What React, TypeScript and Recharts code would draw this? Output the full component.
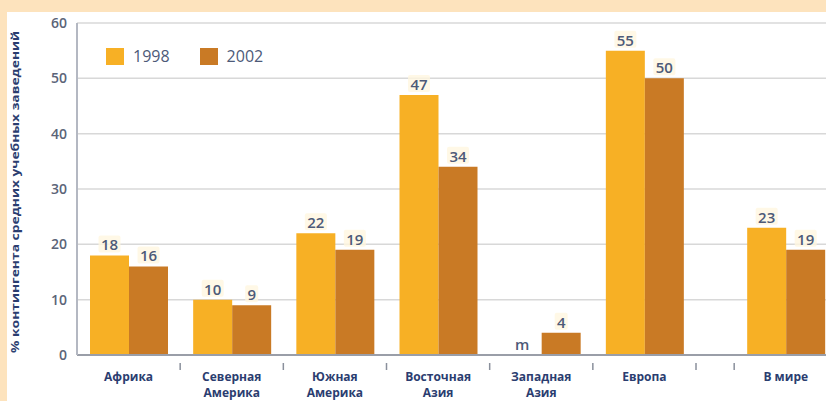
import { BarChart, Bar, XAxis, YAxis, CartesianGrid, Legend, LabelList } from "recharts";

// categories (label lines), their centre on the x scale, and the two survey years
const categories = [
  ["Африка"],
  ["Северная", "Америка"],
  ["Южная", "Америка"],
  ["Восточная", "Азия"],
  ["Западная", "Азия"],
  ["Европа"],
  ["В мире"],
];
const positions = [0.5, 1.5, 2.5, 3.5, 4.5, 5.5, 6.87];
const dividers = [1, 2, 3, 4, 5, 6, 6.37];
const values1998 = [18, 10, 22, 47, null, 55, 23];
const values2002 = [16, 9, 19, 34, 4, 50, 19];
const yTicks = [0, 10, 20, 30, 40, 50, 60];

const C1998 = "#f7b025";
const C2002 = "#c97a25";
const FONT = "'Open Sans', sans-serif";

const data = positions.map((p, i) => ({
  pos: p,
  y1998: values1998[i] ?? 0,
  y2002: values2002[i] ?? 0,
  lab1998: values1998[i] == null ? "m" : String(values1998[i]),
  lab2002: values2002[i] == null ? "m" : String(values2002[i]),
}));

function ValueLabel(props: any) {
  const { x, y, width, value } = props;
  const cx = x + width / 2;
  const missing = value === "m";
  const w = String(value).length * 9 + 4;
  return (
    <g>
      {!missing && (
        <rect x={cx - w / 2} y={y - 20} width={w} height={17} rx={2} fill="#fff6e0" opacity={0.8} />
      )}
      <text x={cx} y={y - 5} textAnchor="middle" fill="#4d5a78" fontSize={15} fontWeight={600} fontFamily={FONT}>
        {value}
      </text>
    </g>
  );
}

function CategoryTick(props: any) {
  const { x, y, payload } = props;
  const di = dividers.indexOf(payload.value);
  if (di >= 0) {
    return <line x1={x} x2={x} y1={y} y2={y + 7} stroke="#8a909c" strokeWidth={1.5} />;
  }
  const ci = positions.indexOf(payload.value);
  if (ci < 0) return null;
  return (
    <text x={x} y={y + 18} textAnchor="middle" fill="#2b3d70" fontSize={12} fontWeight={700} fontFamily={FONT}>
      {categories[ci].map((line, k) => (
        <tspan key={k} x={x} dy={k === 0 ? 0 : 16}>{line}</tspan>
      ))}
    </text>
  );
}

function LegendBox() {
  const items = [
    { name: "1998", color: C1998 },
    { name: "2002", color: C2002 },
  ];
  return (
    <div style={{ display: "flex", alignItems: "center", fontFamily: FONT }}>
      {items.map(it => (
        <div key={it.name} style={{ display: "flex", alignItems: "center", marginRight: 30 }}>
          <div style={{ width: 18, height: 17, background: it.color, marginRight: 9 }} />
          <span style={{ fontSize: 16, color: "#4d5a78", fontWeight: 500 }}>{it.name}</span>
        </div>
      ))}
    </div>
  );
}

function YTitle() {
  return (
    <text
      x={19} y={192} transform="rotate(-90, 19, 192)" textAnchor="middle"
      fill="#2b3d70" fontSize={10} fontWeight={700} fontFamily={FONT}
      textLength={322} lengthAdjust="spacingAndGlyphs"
    >
      % контингента средних учебных заведений
    </text>
  );
}

export default function App() {
  return (
    <div style={{ position: "relative", width: 826, height: 401, background: "#fde3bd", overflow: "hidden" }}>
      <style>{`body{margin:0}`}</style>
      <div style={{ position: "absolute", left: 7, top: 12, right: 0, bottom: 0, background: "#ffffff" }} />
      <div style={{ position: "absolute", left: 0, top: 0 }}>
        <BarChart width={826} height={401} data={data} margin={{ top: 23, right: 0, bottom: 0, left: 0 }} barGap={0}>
          <CartesianGrid vertical={false} stroke="#d8d8d8" strokeWidth={1.5} />
          <XAxis
            dataKey="pos" type="number" domain={[0, 7.26]}
            ticks={[...positions, ...dividers]} interval={0}
            tick={<CategoryTick />} tickLine={false}
            axisLine={{ stroke: "#9a9ea8", strokeWidth: 2 }}
            height={46}
          />
          <YAxis
            domain={[0, 60]} ticks={yTicks} width={77} tickLine={false}
            tickMargin={4}
            axisLine={{ stroke: "#b4b8c2", strokeWidth: 2 }}
            tick={{ fontSize: 14, fontWeight: 600, fill: "#5b6478", fontFamily: FONT }}
            label={<YTitle />}
          />
          <Legend
            verticalAlign="middle" align="center" content={<LegendBox />}
            wrapperStyle={{ top: 45, left: 106, width: "auto" }}
          />
          <Bar dataKey="y1998" fill={C1998} barSize={39} minPointSize={0.01} isAnimationActive={false}>
            <LabelList dataKey="lab1998" content={<ValueLabel />} />
          </Bar>
          <Bar dataKey="y2002" fill={C2002} barSize={39} isAnimationActive={false}>
            <LabelList dataKey="lab2002" content={<ValueLabel />} />
          </Bar>
        </BarChart>
      </div>
    </div>
  );
}
